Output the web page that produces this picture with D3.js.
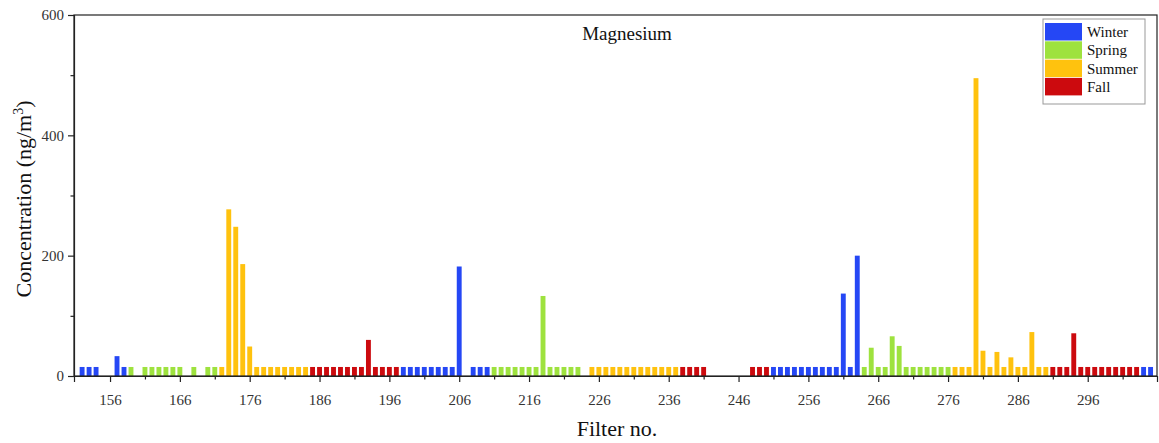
<!DOCTYPE html>
<html>
<head>
<meta charset="utf-8">
<script src="https://cdn.jsdelivr.net/npm/d3@7"></script>
<style>
  html, body { margin: 0; padding: 0; background: #fff; }
  svg { display: block; font-family: "Liberation Serif", "DejaVu Serif", serif; }
</style>
</head>
<body>
<svg id="chart" width="1159" height="443"></svg>
<script>
// Magnesium concentration per filter, grouped by sampling season (ng/m3)
const winterFilters = [152,153,154,157,158,198,199,200,201,202,203,204,205,206,208,209,210,251,252,253,254,255,256,257,258,259,260,261,262,263,304,305];
const winterValues  = [15,15,15,33,15,15,15,15,15,15,15,15,15,182,15,15,15,15,15,15,15,15,15,15,15,15,15,137,15,200,15,15];

const springFilters = [159,161,162,163,164,165,166,168,170,171,211,212,213,214,215,216,217,218,219,220,221,222,223,264,265,266,267,268,269,270,271,272,273,274,275,276];
const springValues  = [15,15,15,15,15,15,15,15,15,15,15,15,15,15,15,15,15,133,15,15,15,15,15,15,47,15,15,66,50,15,15,15,15,15,15,15];

const summerFilters = [172,173,174,175,176,177,178,179,180,181,182,183,184,225,226,227,228,229,230,231,232,233,234,235,236,237,277,278,279,280,281,282,283,284,285,286,287,288,289,290];
const summerValues  = [15,277,248,186,49,15,15,15,15,15,15,15,15,15,15,15,15,15,15,15,15,15,15,15,15,15,15,15,15,495,42,15,40,15,31,15,15,73,15,15];

const fallFilters = [185,186,187,188,189,190,191,192,193,194,195,196,197,238,239,240,241,248,249,250,291,292,293,294,295,296,297,298,299,300,301,302,303];
const fallValues  = [15,15,15,15,15,15,15,15,60,15,15,15,15,15,15,15,15,15,15,15,15,15,15,71,15,15,15,15,15,15,15,15,15];

const seasonNames  = ["Winter", "Spring", "Summer", "Fall"];
const seasonColors = ["#2547f5", "#9ee23e", "#ffc20e", "#cc0a0e"];

const xTicks = [156,166,176,186,196,206,216,226,236,246,256,266,276,286,296];
const xMinorTicks = [161,171,181,191,201,211,221,231,241,251,261,271,281,291,301];
const yTicks = [0,200,400,600];
const yMinorTicks = [100,300,500];

const seasonData = [
  [winterFilters, winterValues],
  [springFilters, springValues],
  [summerFilters, summerValues],
  [fallFilters, fallValues]
];
const bars = [];
seasonData.forEach(([f, v], i) => f.forEach((n, j) => bars.push({ filter: n, value: v[j], season: seasonNames[i] })));

const margin = { left: 74, right: 2, top: 15, bottom: 67 };
const W = 1159, H = 443;
const svg = d3.select("#chart");

const x = d3.scaleLinear().domain([150.84, 305.92]).range([margin.left, W - margin.right]);
const y = d3.scaleLinear().domain([0, 600]).range([H - margin.bottom, margin.top]);
const color = d3.scaleOrdinal().domain(seasonNames).range(seasonColors);

const unit = x(157) - x(156);
const barW = unit * 0.7;

// bars
svg.append("g").selectAll("rect").data(bars).join("rect")
  .attr("x", d => x(d.filter) - barW / 2)
  .attr("width", barW)
  .attr("y", d => y(d.value))
  .attr("height", d => y(0) - y(d.value))
  .attr("fill", d => color(d.season));

// frame
svg.append("rect")
  .attr("x", margin.left).attr("y", margin.top)
  .attr("width", W - margin.right - margin.left)
  .attr("height", y(0) - margin.top)
  .attr("fill", "none").attr("stroke", "#222").attr("stroke-width", 1.2);

// x axis
const xAxis = svg.append("g").attr("transform", `translate(0,${y(0)})`)
  .call(d3.axisBottom(x).tickValues(xTicks).tickFormat(d3.format("d")).tickSize(6).tickPadding(12));
const xMinor = svg.append("g").attr("transform", `translate(0,${y(0)})`)
  .call(d3.axisBottom(x).tickValues(xMinorTicks).tickFormat("").tickSize(3.5));
xMinor.select(".domain").remove();

// y axis
const yAxis = svg.append("g").attr("transform", `translate(${margin.left},0)`)
  .call(d3.axisLeft(y).tickValues(yTicks).tickFormat(d3.format("d")).tickSize(6).tickPadding(4));
const yMinor = svg.append("g").attr("transform", `translate(${margin.left},0)`)
  .call(d3.axisLeft(y).tickValues(yMinorTicks).tickFormat("").tickSize(3.5));
yMinor.select(".domain").remove();

[xAxis, yAxis, xMinor, yMinor].forEach(g => {
  g.selectAll("path.domain").attr("stroke", "#222").attr("stroke-width", 1.2);
  g.selectAll(".tick line").attr("stroke", "#222").attr("stroke-width", 1.2);
  g.selectAll(".tick text").attr("font-family", "Liberation Serif, serif").attr("font-size", 15).attr("fill", "#333");
});

// titles
svg.append("text").attr("x", 627).attr("y", 40).attr("text-anchor", "middle")
  .attr("font-size", 19).attr("fill", "#111").text("Magnesium");

svg.append("text").attr("x", 617).attr("y", 436).attr("text-anchor", "middle")
  .attr("font-size", 22).attr("fill", "#111").text("Filter no.");

const yTitle = svg.append("text")
  .attr("transform", "translate(31,199) rotate(-90)")
  .attr("text-anchor", "middle").attr("font-size", 22).attr("fill", "#111");
yTitle.append("tspan").text("Concentration (ng/m");
yTitle.append("tspan").attr("font-size", 14).attr("dy", -8).text("3");
yTitle.append("tspan").attr("dy", 8).text(")");

// legend
const lg = svg.append("g");
lg.append("rect").attr("x", 1043).attr("y", 19).attr("width", 102).attr("height", 85)
  .attr("fill", "#fff").attr("stroke", "#999").attr("stroke-width", 1);
seasonNames.forEach((s, i) => {
  const ly = 23 + i * 18.3;
  lg.append("rect").attr("x", 1045).attr("y", ly).attr("width", 37).attr("height", 17.5).attr("fill", color(s));
  lg.append("text").attr("x", 1087).attr("y", ly + 14).attr("font-size", 15).attr("fill", "#111").text(s);
});
</script>
</body>
</html>
